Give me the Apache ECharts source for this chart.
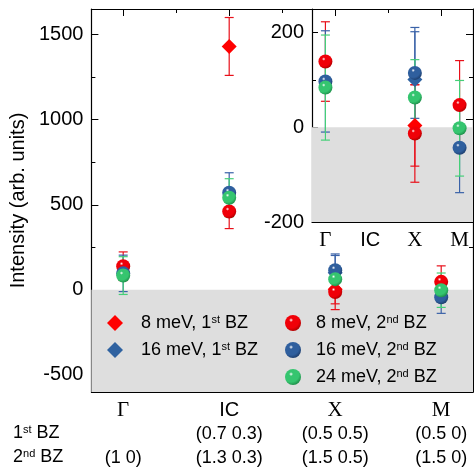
<!DOCTYPE html>
<html><head><meta charset="utf-8">
<script src="https://cdn.jsdelivr.net/npm/echarts@6/dist/echarts.min.js"></script>
<style>html,body{margin:0;padding:0;background:#fff}#c{width:474px;height:468px}</style>
</head><body><div id="c"></div>
<script>
const categories = ['Γ', 'IC', 'X', 'M'];
const bz1Coords = ['', '(0.7 0.3)', '(0.5 0.5)', '(0.5 0)'];
const bz2Coords = ['(1 0)', '(1.3 0.3)', '(1.5 0.5)', '(1.5 0)'];
const mev8bz1 = [null, 1430, 4, null];
const mev8bz1Err = [null, 170, 86, null];
const mev16bz1 = [null, null, 101, null];
const mev16bz1Err = [null, null, 101, null];
const mev8bz2 = [139, 460, -13, 47];
const mev8bz2Err = [84, 100, 103, 94];
const mev16bz2 = [97, 571, 115, -43];
const mev16bz2Err = [107, 117, 96, 95];
const mev24bz2 = [84, 541, 63, -2];
const mev24bz2Err = [111, 112, 80, 101];
const mainYTicks = [-500, 0, 500, 1000, 1500];
const mainYMinor = [-250, 250, 750, 1250];
const insetYTicks = [-200, 0, 200];
const insetYMinor = [-100, 100];
const xMajor = [0, 1, 2, 3];
const xMinor = [0.5, 1.5, 2.5];

const SANS = 'Liberation Sans, Arial, sans-serif';
const SERIF = 'Liberation Serif, Times New Roman, serif';

function sphere(base, dark) {
  return {type: 'radial', x: 0.38, y: 0.32, r: 0.7, colorStops: [
    {offset: 0, color: '#ffffff'}, {offset: 0.18, color: base}, {offset: 0.7, color: base}, {offset: 1, color: dark}]};
}
const defs = [
  {name: 'd8', vals: mev8bz1, err: mev8bz1Err, symbol: 'diamond', size: 15, color: '#ff0000', bar: '#e8101a'},
  {name: 'd16', vals: mev16bz1, err: mev16bz1Err, symbol: 'diamond', size: 15, color: '#2f62a0', bar: '#3a62a8'},
  {name: 's8', vals: mev8bz2, err: mev8bz2Err, symbol: 'circle', size: 14, color: sphere('#f00008', '#b00000'), bar: '#e8101a'},
  {name: 's16', vals: mev16bz2, err: mev16bz2Err, symbol: 'circle', size: 14, color: sphere('#2f5f9e', '#1d3e6e'), bar: '#3a62a8'},
  {name: 's24', vals: mev24bz2, err: mev24bz2Err, symbol: 'circle', size: 14, color: sphere('#35c56f', '#1f8f4a'), bar: '#45cf78'}
];
const labels = {
  d8: '8 meV, 1{sup|st} BZ', d16: '16 meV, 1{sup|st} BZ',
  s8: '8 meV, 2{sup|nd} BZ', s16: '16 meV, 2{sup|nd} BZ', s24: '24 meV, 2{sup|nd} BZ'
};

function errSeries(d, xi, yi) {
  const rows = [];
  d.vals.forEach((v, i) => { if (v !== null) rows.push([i, v - d.err[i], v + d.err[i]]); });
  return {
    type: 'custom', xAxisIndex: xi, yAxisIndex: yi, clip: true, silent: true, z: 2,
    data: rows, encode: {x: 0, y: [1, 2]},
    renderItem(params, api) {
      const x = api.value(0);
      const lo = api.coord([x, api.value(1)]);
      const hi = api.coord([x, api.value(2)]);
      const w = 4.5, st = {stroke: d.bar, lineWidth: 1.2};
      return {type: 'group', children: [
        {type: 'line', shape: {x1: lo[0], y1: lo[1], x2: hi[0], y2: hi[1]}, style: st},
        {type: 'line', shape: {x1: lo[0] - w, y1: lo[1], x2: lo[0] + w, y2: lo[1]}, style: st},
        {type: 'line', shape: {x1: hi[0] - w, y1: hi[1], x2: hi[0] + w, y2: hi[1]}, style: st}
      ]};
    }
  };
}
function ptSeries(d, xi, yi, withName) {
  const rows = [];
  d.vals.forEach((v, i) => { if (v !== null) rows.push([i, v]); });
  const s = {type: 'scatter', xAxisIndex: xi, yAxisIndex: yi, clip: true, z: 3,
    symbol: d.symbol, symbolSize: d.size, data: rows, itemStyle: {color: d.color, opacity: 1}};
  if (withName) s.name = d.name;
  return s;
}

const series = [];
series.push({type: 'scatter', xAxisIndex: 0, yAxisIndex: 0, data: [], z: 1, silent: true,
  markArea: {silent: true, itemStyle: {color: '#dedede'}, data: [[{xAxis: -0.3, yAxis: -600}, {xAxis: 3.3, yAxis: 0}]]}});
series.push({type: 'scatter', xAxisIndex: 4, yAxisIndex: 4, data: [], z: 1, silent: true,
  markArea: {silent: true, itemStyle: {color: '#dedede'}, data: [[{xAxis: -0.3, yAxis: -200}, {xAxis: 3.3, yAxis: 0}]]}});
[[0, 0, true], [4, 4, false]].forEach(([xi, yi, named]) => {
  defs.forEach(d => series.push(errSeries(d, xi, yi)));
  defs.forEach(d => series.push(ptSeries(d, xi, yi, named)));
});

function xLabelMain(v) {
  const i = Math.round(v);
  const nm = categories[i];
  const st = nm === 'IC' ? 's' : 'g';
  return '{' + st + '|' + nm + '}\n{c|' + (bz1Coords[i] || ' ') + '}\n{c|' + bz2Coords[i] + '}';
}
function xLabelInset(v) {
  const nm = categories[Math.round(v)];
  return '{' + (nm === 'IC' ? 's' : 'g') + '|' + nm + '}';
}
const richX = {
  g: {fontFamily: SERIF, fontSize: 21, lineHeight: 24, color: '#000'},
  s: {fontFamily: SANS, fontSize: 20, lineHeight: 24, color: '#000'},
  c: {fontFamily: SANS, fontSize: 18, lineHeight: 24, color: '#000'}
};
const lineOn = {show: true, onZero: false, lineStyle: {color: '#000', width: 1.2}};
const lineOff = {show: false, onZero: false};
function xAx(grid, pos, ticks, len, label, fmt, line) {
  return {type: 'value', gridIndex: grid, position: pos, min: -0.3, max: 3.3,
    axisLine: line ? lineOn : lineOff, splitLine: {show: false},
    axisTick: {show: true, inside: true, length: len, customValues: ticks, lineStyle: {color: '#000', width: 1}},
    axisLabel: label ? {show: true, customValues: ticks, formatter: fmt, rich: richX, margin: 6} : {show: false}};
}
function yAx(grid, pos, min, max, ticks, len, labelVals, line) {
  return {type: 'value', gridIndex: grid, position: pos, min: min, max: max,
    axisLine: line ? lineOn : lineOff, splitLine: {show: false},
    axisTick: {show: true, inside: true, length: len, customValues: ticks, lineStyle: {color: '#000', width: 1}},
    axisLabel: labelVals ? {show: true, customValues: labelVals, formatter: v => String(v),
      fontFamily: SANS, fontSize: 20, color: '#000', margin: 8} : {show: false}};
}

const xAxis = [
  xAx(0, 'bottom', xMajor, 7, true, xLabelMain, true),
  xAx(0, 'bottom', xMinor, 4, false, null, false),
  xAx(0, 'top', xMajor, 7, false, null, true),
  xAx(0, 'top', xMinor, 4, false, null, false),
  xAx(1, 'bottom', xMajor, 6, true, xLabelInset, true),
  xAx(1, 'bottom', xMinor, 4, false, null, false)
];
const yMain = yAx(0, 'left', -600, 1650, mainYTicks, 7, mainYTicks, true);
yMain.name = 'Intensity (arb. units)';
yMain.nameLocation = 'middle';
yMain.nameGap = 62;
yMain.nameTextStyle = {fontFamily: SANS, fontSize: 20, color: '#000'};
const yAxis = [
  yMain,
  yAx(0, 'left', -600, 1650, mainYMinor, 4, null, false),
  yAx(0, 'right', -600, 1650, mainYTicks, 7, null, true),
  yAx(0, 'right', -600, 1650, mainYMinor, 4, null, false),
  yAx(1, 'left', -200, 250, insetYTicks, 6, insetYTicks, true),
  yAx(1, 'left', -200, 250, insetYMinor, 4, null, false)
];

const legRich = {
  t: {fontFamily: SANS, fontSize: 18, color: '#000', lineHeight: 18},
  sup: {fontFamily: SANS, fontSize: 11, color: '#000', verticalAlign: 'top', lineHeight: 11}
};
function legFmt(name) {
  return labels[name].replace(/^([^{]*)\{sup\|([^}]*)\}(.*)$/, '{t|$1}{sup|$2}{t|$3}');
}
const chart = echarts.init(document.getElementById('c'), null, {renderer: 'canvas'});
chart.setOption({
  animation: false,
  backgroundColor: '#fff',
  grid: [
    {left: 91, top: 9, width: 382, height: 383, show: false},
    {left: 312, top: 9, width: 161, height: 213, show: true, backgroundColor: '#fff', borderWidth: 0}
  ],
  xAxis: xAxis,
  yAxis: yAxis,
  legend: [
    {data: ['d8', 'd16'], orient: 'vertical', left: 107, top: 314, padding: 0, itemGap: 9, itemWidth: 16, itemHeight: 16,
      formatter: legFmt, textStyle: {rich: legRich, padding: [0, 0, 0, 13]}, selectedMode: false},
    {data: ['s8', 's16', 's24'], orient: 'vertical', left: 285, top: 314, padding: 0, itemGap: 9, itemWidth: 16, itemHeight: 16,
      formatter: legFmt, textStyle: {rich: legRich, padding: [0, 0, 0, 10]}, selectedMode: false}
  ],
  graphic: [
    {type: 'text', left: 13, top: 424, style: {text: '{t|1}{sup|st}{t| BZ}', rich: legRich}},
    {type: 'text', left: 13, top: 448, style: {text: '{t|2}{sup|nd}{t| BZ}', rich: legRich}}
  ],
  series: series
});
</script></body></html>
